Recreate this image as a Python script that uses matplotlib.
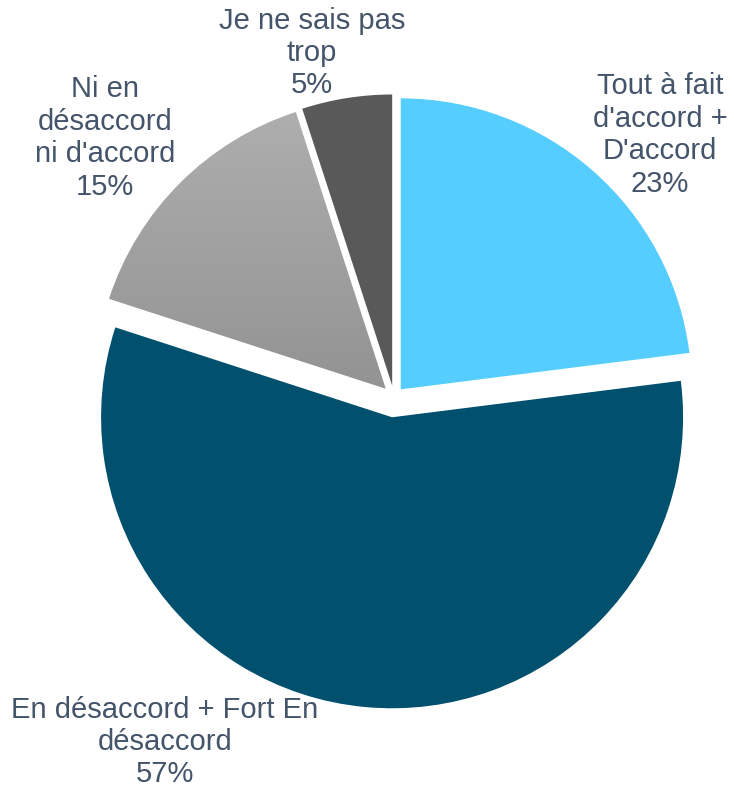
import numpy as np
import matplotlib
matplotlib.use("Agg")
import matplotlib.pyplot as plt
from matplotlib.colors import LinearSegmentedColormap

plt.rcParams['font.family'] = ['Liberation Sans', 'DejaVu Sans']

labels = ["Tout à fait\nd'accord +\nD'accord", "En désaccord + Fort En\ndésaccord",
          "Ni en\ndésaccord\nni d'accord", "Je ne sais pas\ntrop"]
values = [23, 57, 15, 5]
colors = ['#55CDFF', '#00506E', '#A0A0A0', '#595959']

W, H = 734, 789
fig = plt.figure(figsize=(W / 100, H / 100), dpi=100)
ax = fig.add_axes([0, 0, 1, 1])

cx, cy, r = 394, H - 397, 291
# explode is in data units (pixels here)
explode = [0.035 * r, 0.07 * r, 0.04 * r, 0.04 * r]
wedges, _ = ax.pie(values, colors=colors, startangle=90, counterclock=False,
                   explode=explode, center=(cx, cy), radius=r, frame=True)
ax.set_xlim(0, W)
ax.set_ylim(0, H)
ax.set_aspect('equal')
ax.axis('off')

# gradient on the grey wedge
gw = wedges[2]
cmap = LinearSegmentedColormap.from_list('g', ['#939393', '#AEAEAE'])
grad = np.linspace(0, 1, 256).reshape(-1, 1)
bb = gw.get_path().get_extents()
gw.set_facecolor('none')
im = ax.imshow(grad, cmap=cmap, origin='lower', aspect='auto',
               extent=[bb.x0, bb.x1, bb.y0, bb.y1], zorder=gw.get_zorder())
im.set_clip_path(gw)
ax.set_xlim(0, W)
ax.set_ylim(0, H)

txt = '#44546A'
pos = [(660, 135), (165, 742), (105, 138), (312, 53)]
for lab, v, (x, y) in zip(labels, values, pos):
    ax.text(x, H - y, f"{lab}\n{v}%", ha='center', va='center', fontsize=21,
            color=txt, linespacing=1.2)

fig.savefig('out.png', dpi=100)
